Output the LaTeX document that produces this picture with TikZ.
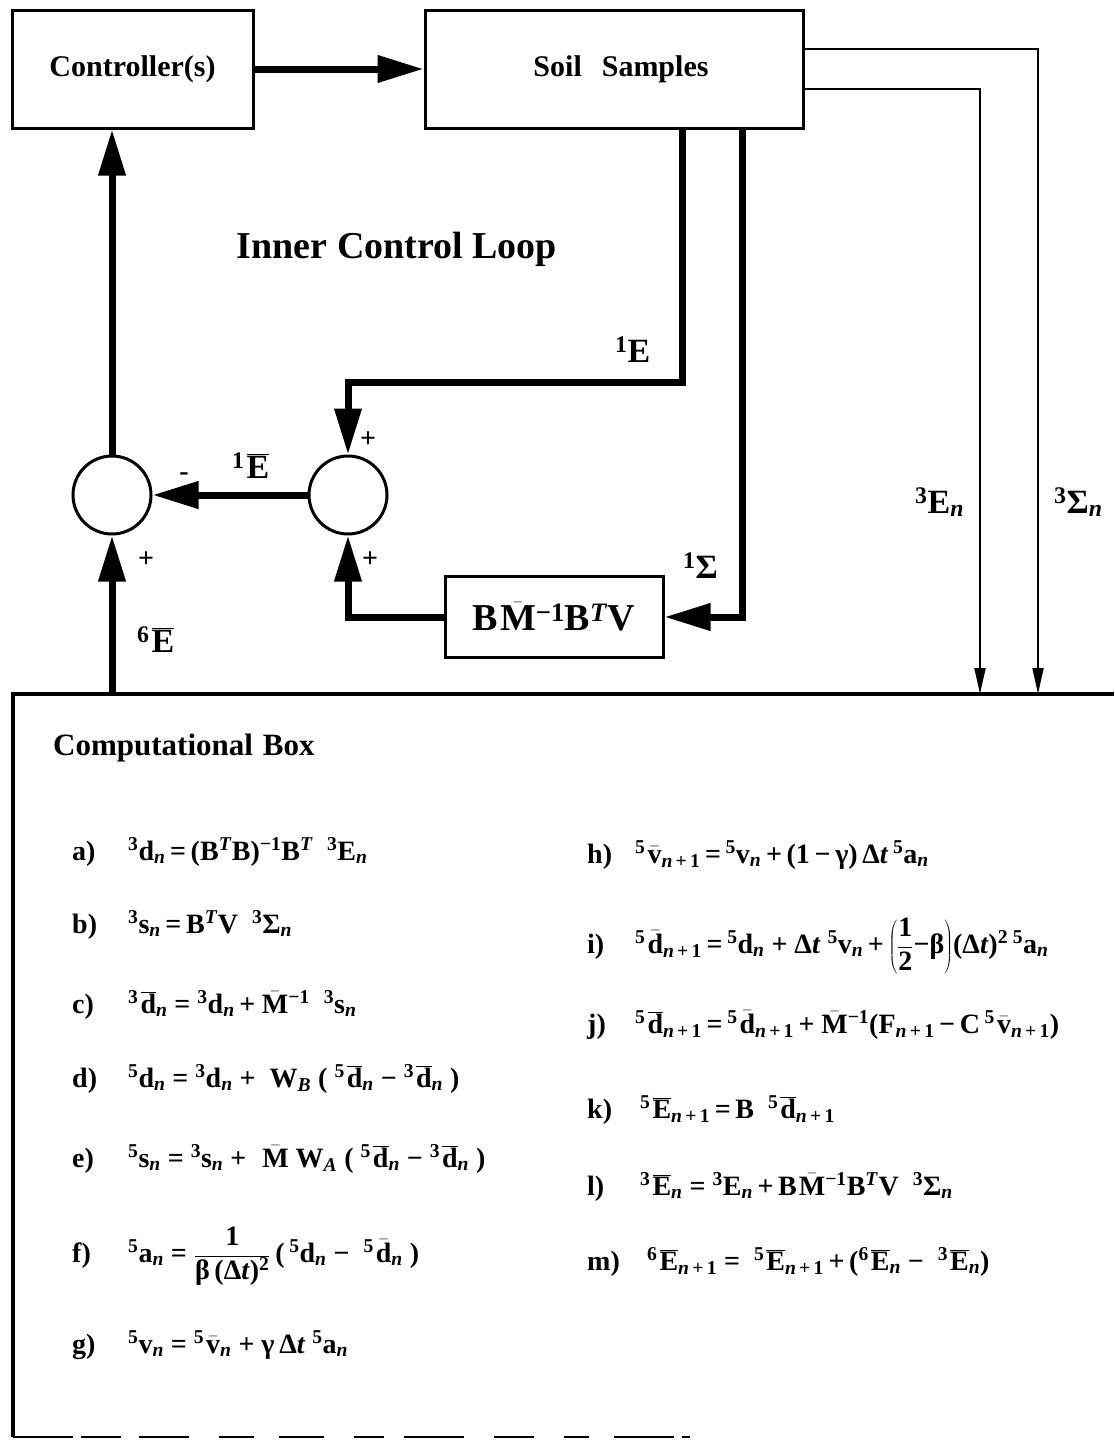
\documentclass[tikz,border=0pt]{standalone}
\usepackage{fontspec}
\setmainfont{Liberation Serif}
\usetikzlibrary{arrows.meta}
\newcommand\pre[1]{\textsuperscript{#1}}
\newcommand\sbn{\textsubscript{\textit{n}}}
\newcommand\sbnp{\textsubscript{\textit{n}\,+\,1}}
\newcommand\ovl[1]{\kern2pt\ensuremath{\overline{\mbox{#1}}}}
\newcommand\shb[1]{\kern2pt\ensuremath{\bar{\mbox{#1}}}}
\tikzset{
  blk/.style={draw, line width=3pt, inner sep=0pt},
  sumj/.style={draw, circle, line width=3pt, minimum size=78pt, inner sep=0pt},
  thk/.style={line width=7pt, line join=miter, -{Triangle[length=46pt,width=26pt]}},
  thn/.style={line width=2pt, -{Triangle[length=26pt,width=11pt]}},
  lbl/.style={anchor=base west, inner sep=0pt, font=\fontsize{34}{40}\selectfont\bfseries},
  sgn/.style={inner sep=0pt, font=\fontsize{28}{32}\selectfont\bfseries},
  eqlab/.style={anchor=base west, inner sep=0pt, font=\fontsize{28}{32}\selectfont\bfseries},
  eqn/.style={anchor=base west, inner sep=0pt, font=\fontsize{28}{32}\selectfont\bfseries},
}
\begin{document}
\begin{tikzpicture}[x=1pt,y=-1pt]
\useasboundingbox (0,0) rectangle (1114,1443);
% boxes
\node[blk, minimum width=241pt, minimum height=118pt, font=\fontsize{30}{34}\selectfont\bfseries] (ctrl) at (132.5,69) {Controller(s)};
\node[blk, minimum width=378pt, minimum height=118pt, font=\fontsize{30}{34}\selectfont\bfseries] (soil) at (614,69) {\hspace{14pt}Soil\hspace{20pt}Samples};
\node[blk, minimum width=218pt, minimum height=81pt, font=\fontsize{38}{42}\selectfont\bfseries] (bmbv) at (554,617) {B\shb{M}\pre{−1}B\pre{\textit{T}}V};
\node[sumj] (s1) at (112,495) {};
\node[sumj] (s2) at (348,495) {};
\node[anchor=base, inner sep=0pt, font=\fontsize{38}{42}\selectfont\bfseries] (icl) at (397,258) {Inner Control Loop};
% computational box outline
\coordinate (cbl) at (13,694);
\coordinate (cbr) at (1114,694);
\coordinate (cbb) at (13,1437);
\draw[line width=4pt] (cbr) -- (cbl) -- (cbb);
\draw[line width=2.5pt, dash pattern=on 60pt off 8pt on 40pt off 18pt on 50pt off 30pt on 35pt off 25pt on 45pt off 30pt on 30pt off 20pt on 60pt off 30pt on 40pt off 30pt on 25pt off 25pt] (cbb) -- (690,1437);
\node[anchor=base west, inner sep=0pt, font=\fontsize{31}{35}\selectfont\bfseries] (cbt) at (53,755) {Computational\hspace{10pt}Box};
% coordinates
\coordinate (eA) at (682,382);
\coordinate (eB) at (348,382);
\coordinate (sA) at (742,617);
\coordinate (bA) at (348,617);
\coordinate (tA) at (1038,49);
\coordinate (tB) at (980,89);
\coordinate (dA) at (1038,694);
\coordinate (dB) at (980,694);
\coordinate (cb6) at (112,694);
% connectors
\draw[thk] (ctrl.east) -- (soil.west);
\draw[thk] (s1.north) -- (s1.north |- ctrl.south);
\draw[thk] (cb6) -- (s1.south);
\draw[thk] (s2.west) -- (s1.east);
\draw[thk] (soil.south -| eA) -- (eA) -- (eB) -- (s2.north);
\draw[thk] (soil.south -| sA) -- (sA) -- (bmbv.east);
\draw[thk] (bmbv.west) -- (bA) -- (s2.south);
\draw[thn] (soil.east |- tA) -- (tA) -- (dA);
\draw[thn] (soil.east |- tB) -- (tB) -- (dB);
% labels
\node[lbl] (l1E) at (615,362) {\pre{1}E};
\node[lbl] (l1Eb) at (232,478) {\pre{1}\ovl{E}};
\node[lbl] (l1S) at (683,578) {\pre{1}Σ};
\node[lbl] (l6E) at (137,652) {\pre{6}\ovl{E}};
\node[lbl] (l3E) at (915,513) {\pre{3}E\sbn};
\node[lbl] (l3S) at (1054,513) {\pre{3}Σ\sbn};
\node[sgn] (p1) at (368,440) {+};
\node[sgn] (m1) at (184,477) {-};
\node[sgn] (p2) at (146,560) {+};
\node[sgn] (p3) at (370,560) {+};
% equations left
\node[eqlab] (la) at (72,860) {a)};
\node[eqn] (ea) at (128,860) {\pre{3}d\sbn\,=\,(B\pre{\textit{T}}B)\pre{−1}B\pre{\textit{T}}\ \ \pre{3}E\sbn};
\node[eqlab] (lb) at (72,933) {b)};
\node[eqn] (eb) at (128,933) {\pre{3}s\sbn\,=\,B\pre{\textit{T}}V\ \ \pre{3}Σ\sbn};
\node[eqlab] (lc) at (72,1013) {c)};
\node[eqn] (ec) at (128,1013) {\pre{3}\ovl{d}\sbn\ =\ \pre{3}d\sbn\,+\,\shb{M}\pre{−1}\ \ \pre{3}s\sbn};
\node[eqlab] (ld) at (72,1087) {d)};
\node[eqn] (ed) at (128,1087) {\pre{5}d\sbn\ =\ \pre{3}d\sbn\ +\ \ W\textsubscript{\textit{B}}\ (\ \pre{5}\ovl{d}\sbn\ −\ \pre{3}\ovl{d}\sbn\ )};
\node[eqlab] (le) at (72,1167) {e)};
\node[eqn] (ee) at (128,1167) {\pre{5}s\sbn\ =\ \pre{3}s\sbn\ +\ \ \shb{M}\ W\textsubscript{\textit{A}}\ (\ \pre{5}\ovl{d}\sbn\ −\ \pre{3}\ovl{d}\sbn\ )};
\node[eqlab] (lf) at (72,1262) {f)};
\node[eqn] (ef) at (128,1262) {\pre{5}a\sbn\ =\ $\displaystyle\frac{\mbox{1}}{\mbox{β\,(Δ\textit{t})\pre{2}}}$\,(\,\pre{5}d\sbn\ −\ \ \pre{5}\shb{d}\sbn\ )};
\node[eqlab] (lg) at (72,1353) {g)};
\node[eqn] (eg) at (128,1353) {\pre{5}v\sbn\ =\ \pre{5}\shb{v}\sbn\ +\ γ\,Δ\textit{t}\ \pre{5}a\sbn};
% equations right
\node[eqlab] (lh) at (587,863) {h)};
\node[eqn] (eh) at (635,863) {\pre{5}\shb{v}\sbnp\,=\,\pre{5}v\sbn\,+\,(1\,−\,γ)\,Δ\textit{t}\,\pre{5}a\sbn};
\node[eqlab] (li) at (587,953) {i)};
\node[eqn] (ei) at (635,953) {\pre{5}\shb{d}\sbnp\,=\,\pre{5}d\sbn\ +\ Δ\textit{t}\ \pre{5}v\sbn\,+\,$\left(\displaystyle\frac{\mbox{1}}{\mbox{2}}\mbox{−β}\right)$(Δ\textit{t})\pre{2}\,\pre{5}a\sbn};
\node[eqlab] (lj) at (587,1033) {j)};
\node[eqn] (ej) at (635,1033) {\pre{5}\ovl{d}\sbnp\,=\,\pre{5}\shb{d}\sbnp\,+\,\shb{M}\pre{−1}(F\sbnp\,−\,C\,\pre{5}\shb{v}\sbnp)};
\node[eqlab] (lk) at (587,1118) {k)};
\node[eqn] (ek) at (640,1118) {\pre{5}\ovl{E}\sbnp\,=\,B\ \ \pre{5}\ovl{d}\sbnp};
\node[eqlab] (ll) at (587,1195) {l)};
\node[eqn] (el) at (640,1195) {\pre{3}\ovl{E}\sbn\ =\ \pre{3}E\sbn\,+\,B\shb{M}\pre{−1}B\pre{\textit{T}}V\ \ \pre{3}Σ\sbn};
\node[eqlab] (lm) at (587,1270) {m)};
\node[eqn] (em) at (647,1270) {\pre{6}\ovl{E}\sbnp\ =\ \ \pre{5}\ovl{E}\sbnp\,+\,(\pre{6}\ovl{E}\sbn\ −\ \ \pre{3}\ovl{E}\sbn)};
\end{tikzpicture}
\end{document}
